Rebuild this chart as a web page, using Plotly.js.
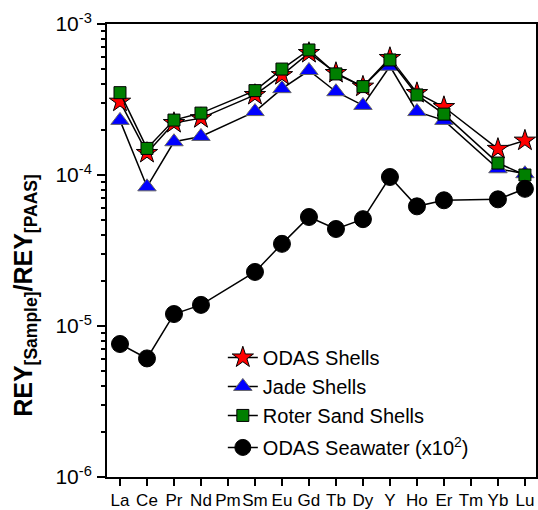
<!DOCTYPE html>
<html>
<head>
<meta charset="utf-8">
<script src="https://cdn.plot.ly/plotly-3.0.1.min.js"></script>
<style>html,body{margin:0;padding:0;background:#fff;}#wrap{position:relative;width:538px;height:510px;}#chart{width:538px;height:510px;}#ticks{position:absolute;left:0;top:0;pointer-events:none;z-index:10;}</style>
</head>
<body>
<div id="wrap"><div id="chart"></div><svg id="ticks" width="538" height="510" xmlns="http://www.w3.org/2000/svg"></svg></div>
<script>
var elements = ["La","Ce","Pr","Nd","Pm","Sm","Eu","Gd","Tb","Dy","Y","Ho","Er","Tm","Yb","Lu"];
var odasShells  = [3.06e-4,1.40e-4,2.21e-4,2.38e-4,null,3.39e-4,4.59e-4,6.43e-4,4.74e-4,3.85e-4,5.96e-4,3.49e-4,2.82e-4,null,1.49e-4,1.69e-4];
var jadeShells  = [2.30e-4,8.35e-5,1.66e-4,1.80e-4,null,2.63e-4,3.73e-4,4.92e-4,3.56e-4,2.89e-4,5.25e-4,2.63e-4,2.30e-4,null,1.10e-4,1.02e-4];
var roterShells = [3.51e-4,1.50e-4,2.31e-4,2.57e-4,null,3.62e-4,5.03e-4,6.73e-4,4.67e-4,3.85e-4,5.78e-4,3.39e-4,2.53e-4,null,1.20e-4,1.00e-4];
var odasSeawater = [7.6e-6,6.1e-6,1.2e-5,1.38e-5,null,2.28e-5,3.5e-5,5.27e-5,4.39e-5,5.1e-5,9.7e-5,6.2e-5,6.8e-5,null,6.9e-5,8.1e-5];
var yTickVals = [1e-6,1e-5,1e-4,1e-3];
var yTickText = ["10<sup>-6</sup>","10<sup>-5</sup>","10<sup>-4</sup>","10<sup>-3</sup>"];
var minorDigits = [2,3,4,5,6,7,8,9];

var idx = elements.map(function(_, i){ return i; });
var W = 538, H = 510, M = {l:107, r:2, t:24, b:33};
var plotW = W - M.l - M.r, plotH = H - M.t - M.b;
var xRange = [-0.481, 15.41], yLogRange = [-6, -3];

// axis tick marks drawn in an overlay using the same axis mapping as the plot
(function(){
  var svg = document.getElementById('ticks');
  var NS = 'http://www.w3.org/2000/svg';
  function tick(x1, y1, x2, y2){
    var l = document.createElementNS(NS, 'line');
    l.setAttribute('x1', x1); l.setAttribute('y1', y1);
    l.setAttribute('x2', x2); l.setAttribute('y2', y2);
    l.setAttribute('stroke', 'black'); l.setAttribute('stroke-width', '2');
    l.setAttribute('shape-rendering', 'crispEdges');
    svg.appendChild(l);
  }
  function xPix(v){ return Math.round(M.l + (v - xRange[0]) / (xRange[1] - xRange[0]) * plotW); }
  function yPix(v){ return Math.round(M.t + (yLogRange[1] - Math.log10(v)) / (yLogRange[1] - yLogRange[0]) * plotH); }
  var yb = M.t + plotH + 1;
  idx.forEach(function(i){ var px = xPix(i); tick(px, yb, px, yb + 8); });
  var xl = M.l - 1;
  yTickVals.forEach(function(v){ var py = yPix(v); tick(xl, py, xl - 9, py); });
  yTickVals.slice(0, 3).forEach(function(d){
    minorDigits.forEach(function(k){ var py = yPix(d * k); tick(xl, py, xl - 5, py); });
  });
})();

var lineStyle = {color:'black', width:1.5};

var traces = [
  {x: idx, y: odasShells, name: 'ODAS Shells', mode: 'lines+markers', connectgaps: true,
   line: lineStyle, legendgroup:'a',
   marker: {symbol:'star', size:16, color:'#ff0000', line:{color:'black', width:1}}},
  {x: idx, y: jadeShells, name: 'Jade Shells', mode: 'lines+markers', connectgaps: true,
   line: lineStyle, legendgroup:'a',
   marker: {symbol:'triangle-up', size:16, color:'#0000ff', line:{color:'#666666', width:1}}},
  {x: idx, y: roterShells, name: 'Roter Sand Shells', mode: 'lines+markers', connectgaps: true,
   line: lineStyle, legendgroup:'a',
   marker: {symbol:'square', size:12, color:'#007f00', line:{color:'black', width:1}}},
  {x: idx, y: odasSeawater, name: 'ODAS Seawater (x10<sup>2</sup>)', mode: 'lines+markers', connectgaps: true,
   line: lineStyle, legendgroup:'b',
   marker: {symbol:'circle', size:17, color:'black', line:{color:'black', width:1}}}
];

var layout = {
  width: W, height: H,
  margin: M,
  font: {family: '"Liberation Sans", Arial, sans-serif', color: 'black'},
  showlegend: true,
  legend: {x: 0.27, y: 0.307, xanchor: 'left', yanchor: 'top',
           bgcolor: 'rgba(0,0,0,0)', font: {size: 20},
           traceorder: 'grouped', tracegroupgap: 3},
  xaxis: {
    range: xRange, tickmode: 'array', tickvals: idx, ticktext: elements, tickangle: 0,
    ticks: 'outside', ticklen: 7, tickwidth: 2, tickcolor: 'rgba(0,0,0,0)',
    showline: true, linewidth: 2, linecolor: 'black', mirror: true,
    showgrid: false, zeroline: false, tickfont: {size: 17}
  },
  yaxis: {
    type: 'log', range: yLogRange, tickmode: 'array', tickvals: yTickVals, ticktext: yTickText,
    ticks: 'outside', ticklen: 9, tickwidth: 2, tickcolor: 'rgba(0,0,0,0)',
    showline: true, linewidth: 2, linecolor: 'black', mirror: true,
    showgrid: false, zeroline: false, tickfont: {size: 21}
  },
  annotations: [{
    text: '<b>REY<sub>[Sample]</sub>/REY<sub>[PAAS]</sub></b>',
    xref: 'paper', yref: 'paper', x: -82/plotW, y: 0.40, xanchor: 'center', yanchor: 'middle',
    textangle: -90, showarrow: false, font: {size: 25, color: 'black'}
  }]
};

Plotly.newPlot('chart', traces, layout, {displayModeBar: false});
</script>
</body>
</html>
